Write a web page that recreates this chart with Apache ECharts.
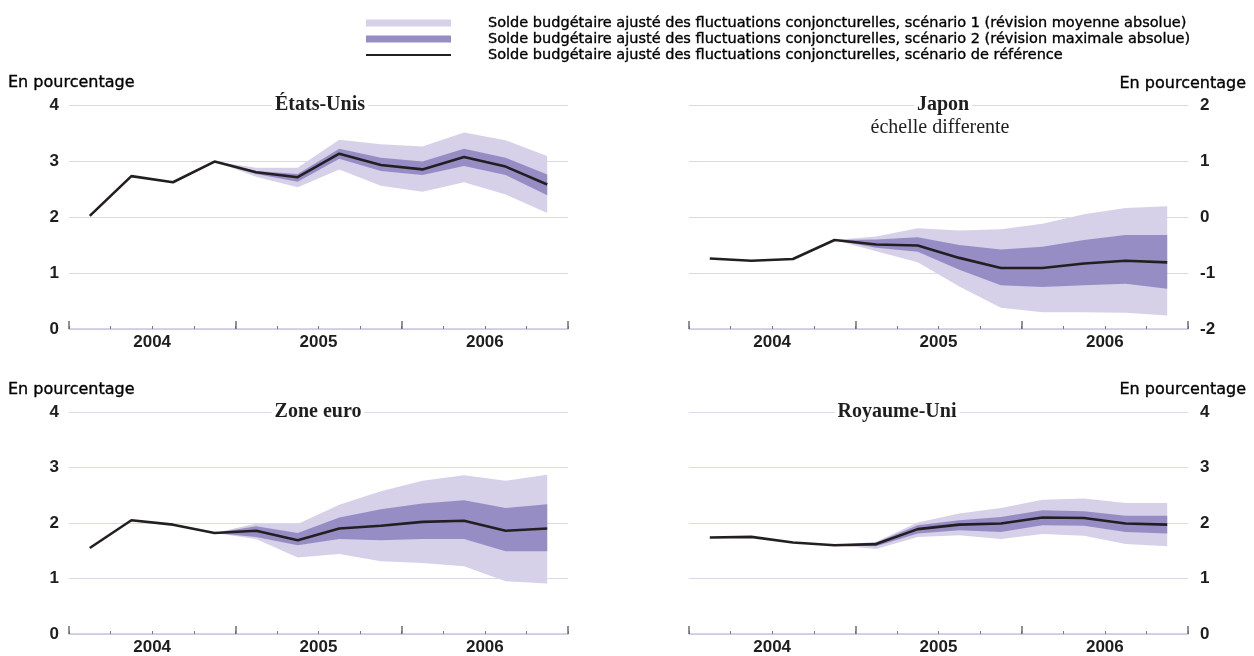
<!DOCTYPE html>
<html>
<head>
<meta charset="utf-8">
<script src="https://cdn.jsdelivr.net/npm/echarts@6/dist/echarts.min.js"></script>
<style>
  html, body { margin: 0; padding: 0; background: #ffffff; }
  #chart { width: 1254px; height: 656px; }
</style>
</head>
<body>
<div id="chart"></div>
<script>
// Quarterly periods, 2004 Q1 to 2006 Q4
const quarters = ['T1 2004','T2 2004','T3 2004','T4 2004','T1 2005','T2 2005','T3 2005','T4 2005','T1 2006','T2 2006','T3 2006','T4 2006'];
const years = ['2004', '2005', '2006'];

// Cyclically adjusted budget balance, % (baseline, band bounds)
const usLine   = [2.02, 2.73, 2.62, 2.99, 2.80, 2.71, 3.13, 2.93, 2.85, 3.07, 2.90, 2.58];
const usS1Up   = [null, null, null, 2.99, 2.88, 2.88, 3.38, 3.30, 3.26, 3.51, 3.37, 3.09];
const usS1Lo   = [null, null, null, 2.99, 2.72, 2.53, 2.85, 2.56, 2.45, 2.62, 2.40, 2.07];
const usS2Up   = [null, null, null, 2.99, 2.82, 2.77, 3.22, 3.06, 2.99, 3.22, 3.06, 2.76];
const usS2Lo   = [null, null, null, 2.99, 2.77, 2.63, 3.04, 2.82, 2.75, 2.91, 2.75, 2.39];

const jpLine   = [-0.74, -0.78, -0.75, -0.41, -0.49, -0.51, -0.73, -0.91, -0.91, -0.83, -0.78, -0.81];
const jpS1Up   = [null, null, null, -0.41, -0.35, -0.20, -0.24, -0.22, -0.12, 0.05, 0.16, 0.19];
const jpS1Lo   = [null, null, null, -0.41, -0.61, -0.81, -1.24, -1.62, -1.70, -1.70, -1.71, -1.76];
const jpS2Up   = [null, null, null, -0.41, -0.40, -0.36, -0.50, -0.58, -0.53, -0.41, -0.32, -0.32];
const jpS2Lo   = [null, null, null, -0.41, -0.55, -0.62, -0.94, -1.22, -1.25, -1.22, -1.19, -1.28];

const euLine   = [1.55, 2.05, 1.97, 1.82, 1.86, 1.69, 1.90, 1.95, 2.02, 2.04, 1.86, 1.90];
const euS1Up   = [null, null, null, 1.82, 1.99, 1.98, 2.33, 2.57, 2.76, 2.86, 2.76, 2.87];
const euS1Lo   = [null, null, null, 1.82, 1.71, 1.38, 1.44, 1.31, 1.28, 1.22, 0.95, 0.91];
const euS2Up   = [null, null, null, 1.82, 1.94, 1.82, 2.10, 2.25, 2.35, 2.41, 2.27, 2.34];
const euS2Lo   = [null, null, null, 1.82, 1.75, 1.60, 1.71, 1.69, 1.71, 1.71, 1.49, 1.49];

const ukLine   = [1.74, 1.75, 1.65, 1.60, 1.62, 1.89, 1.97, 1.99, 2.10, 2.09, 1.99, 1.97];
const ukS1Up   = [null, null, null, 1.60, 1.66, 2.01, 2.17, 2.27, 2.42, 2.44, 2.36, 2.36];
const ukS1Lo   = [null, null, null, 1.60, 1.53, 1.75, 1.78, 1.71, 1.80, 1.77, 1.62, 1.58];
const ukS2Up   = [null, null, null, 1.60, 1.65, 1.96, 2.05, 2.11, 2.23, 2.21, 2.13, 2.13];
const ukS2Lo   = [null, null, null, 1.60, 1.58, 1.81, 1.87, 1.84, 1.96, 1.95, 1.84, 1.81];

const NAME_S1  = 'Solde budgétaire ajusté des fluctuations conjoncturelles, scénario 1 (révision moyenne absolue)';
const NAME_S2  = 'Solde budgétaire ajusté des fluctuations conjoncturelles, scénario 2 (révision maximale absolue)';
const NAME_REF = 'Solde budgétaire ajusté des fluctuations conjoncturelles, scénario de référence';

const SANS  = "'Liberation Sans', Arial, Helvetica, sans-serif";
const WIDE  = "'DejaVu Sans', 'Liberation Sans', Arial, sans-serif";
const SERIF = "'Liberation Serif', 'Times New Roman', serif";
const C_LIGHT = '#d6d1e8';
const C_DARK  = '#978dc5';
const C_LINE  = '#231f20';
const C_GRID  = '#dcd8ec';

const panels = [
  { line: usLine, s1u: usS1Up, s1l: usS1Lo, s2u: usS2Up, s2l: usS2Lo, min: 0,  max: 4, side: 'left',  grid: { left: 69,  top: 105, width: 499, height: 224 } },
  { line: jpLine, s1u: jpS1Up, s1l: jpS1Lo, s2u: jpS2Up, s2l: jpS2Lo, min: -2, max: 2, side: 'right', grid: { left: 689, top: 105, width: 499, height: 224 } },
  { line: euLine, s1u: euS1Up, s1l: euS1Lo, s2u: euS2Up, s2l: euS2Lo, min: 0,  max: 4, side: 'left',  grid: { left: 69,  top: 412, width: 499, height: 224 } },
  { line: ukLine, s1u: ukS1Up, s1l: ukS1Lo, s2u: ukS2Up, s2l: ukS2Lo, min: 0,  max: 4, side: 'right', grid: { left: 689, top: 412, width: 499, height: 224 } }
];

const spread = (up, lo) => up.map((u, i) => (u == null || lo[i] == null) ? null : +(u - lo[i]).toFixed(4));

const grid = [], xAxis = [], yAxis = [], series = [];
panels.forEach((p, k) => {
  grid.push(p.grid);
  // quarter ticks (short)
  xAxis.push({
    type: 'category', gridIndex: k, data: quarters, boundaryGap: true, position: 'bottom',
    axisLine: { show: true, onZero: false, lineStyle: { color: '#cbc6e0', width: 1.5 } },
    axisTick: { show: true, inside: true, length: 3, interval: 0, lineStyle: { color: '#7a7a7a', width: 1 } },
    axisLabel: { show: false }, splitLine: { show: false }
  });
  // year ticks (long) and labels
  xAxis.push({
    type: 'category', gridIndex: k, data: years, boundaryGap: true, position: 'bottom',
    axisLine: { show: false, onZero: false },
    axisTick: { show: true, inside: true, length: 8, interval: 0, lineStyle: { color: '#6e6e6e', width: 1.5 } },
    axisLabel: { show: true, margin: 5, fontFamily: SANS, fontSize: 17, fontWeight: 'bold', color: '#1e1e1e' },
    splitLine: { show: false }
  });
  yAxis.push({
    type: 'value', gridIndex: k, min: p.min, max: p.max, interval: 1, position: p.side,
    axisLine: { show: false }, axisTick: { show: false },
    axisLabel: { margin: p.side === 'left' ? 10 : 12, fontFamily: SANS, fontSize: 17, fontWeight: 'bold', color: '#1e1e1e' },
    splitLine: { lineStyle: { color: C_GRID, width: 1.2 } }
  });
  const xi = k * 2, yi = k;
  const base = (data, stack) => ({
    type: 'line', xAxisIndex: xi, yAxisIndex: yi, data, stack, stackStrategy: 'all', symbol: 'none', silent: true,
    lineStyle: { opacity: 0 }, z: 2
  });
  const band = (name, data, stack, color) => ({
    name, type: 'line', xAxisIndex: xi, yAxisIndex: yi, data, stack, stackStrategy: 'all', symbol: 'none', silent: true,
    lineStyle: { opacity: 0, width: 0 }, itemStyle: { color }, areaStyle: { color, opacity: 1 }, z: 2
  });
  series.push(base(p.s1l, 's1_' + k));
  series.push(band(NAME_S1, spread(p.s1u, p.s1l), 's1_' + k, C_LIGHT));
  series.push(base(p.s2l, 's2_' + k));
  series.push(band(NAME_S2, spread(p.s2u, p.s2l), 's2_' + k, C_DARK));
  series.push({
    name: NAME_REF, type: 'line', xAxisIndex: xi, yAxisIndex: yi, data: p.line, symbol: 'none',
    lineStyle: { color: C_LINE, width: 2.6 }, itemStyle: { color: C_LINE }, z: 5
  });
});

const titleText = (text, x, y, weight) => ({
  type: 'text', x, y, z: 10,
  style: { text, font: (weight || 'bold') + ' 20px ' + SERIF, fill: '#1e1e1e', textAlign: 'center', textVerticalAlign: 'middle', backgroundColor: '#ffffff', padding: [0, 3] }
});
const unitText = (x, y, align) => ({
  type: 'text', x, y, z: 10,
  style: { text: 'En pourcentage', font: '16px ' + WIDE, fill: '#000000', stroke: '#000000', lineWidth: 0.35, textAlign: align, textVerticalAlign: 'middle' }
});

const option = {
  backgroundColor: '#ffffff',
  animation: false,
  legend: {
    orient: 'vertical', left: 360, top: 10, itemWidth: 85, itemHeight: 7, itemGap: 0,
    selectedMode: false,
    textStyle: { fontFamily: WIDE, fontSize: 14.5, color: '#000000', textBorderColor: '#000000', textBorderWidth: 0.35, padding: [0, 0, 0, 32], lineHeight: 16 },
    data: [
      { name: NAME_S1, icon: 'rect' },
      { name: NAME_S2, icon: 'rect' },
      { name: NAME_REF, itemStyle: { opacity: 0 } }
    ]
  },
  grid, xAxis, yAxis, series,
  graphic: [
    titleText('États-Unis', 320, 105),
    titleText('Japon', 943, 105),
    titleText('échelle differente', 940, 128, 'normal'),
    titleText('Zone euro', 318, 412),
    titleText('Royaume-Uni', 897, 412),
    unitText(8, 83, 'left'),
    unitText(1246, 84, 'right'),
    unitText(8, 390, 'left'),
    unitText(1246, 390, 'right')
  ]
};

const chart = echarts.init(document.getElementById('chart'), null, { renderer: 'canvas' });
chart.setOption(option);
</script>
</body>
</html>
